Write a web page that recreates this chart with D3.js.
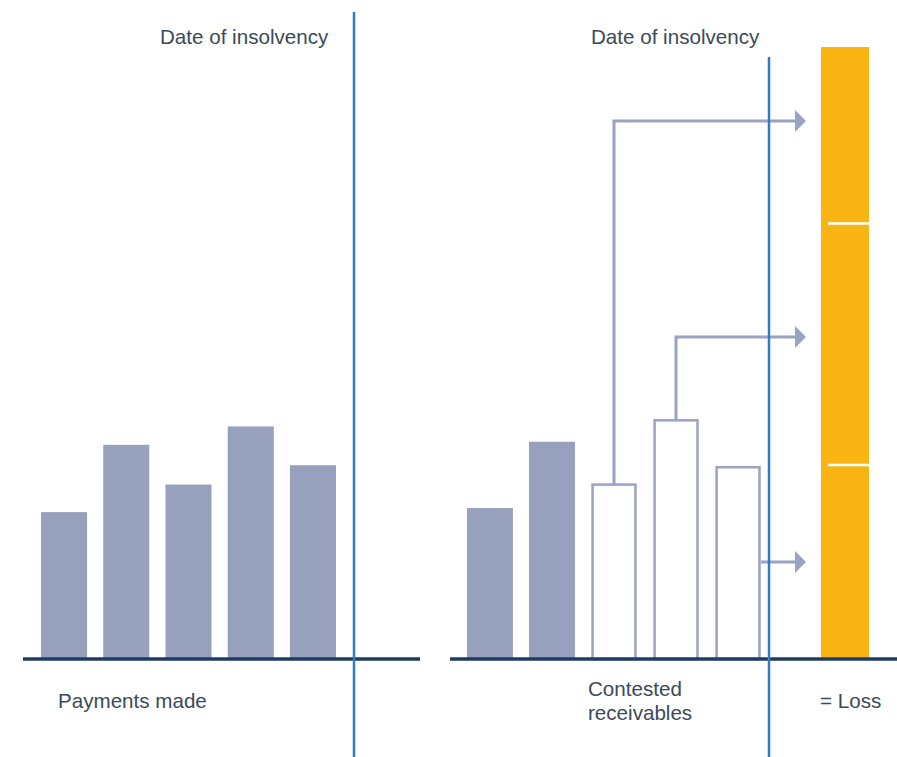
<!DOCTYPE html>
<html>
<head>
<meta charset="utf-8">
<script src="https://cdn.jsdelivr.net/npm/d3@7"></script>
<style>
  body { margin: 0; background: #fff; }
  text { font-family: "Liberation Sans", Arial, sans-serif; fill: #3b4a58; font-size: 20.6px; }
</style>
</head>
<body>
<div id="chart"></div>
<script>
// values (arbitrary units)
var paymentPeriods = ["p1", "p2", "p3", "p4", "p5"];
var paymentsMade = [144, 210, 171, 228, 190];
var afterPeriods = ["r1", "r2", "r3", "r4", "r5"];
var afterValues = [148, 213, 171, 234, 188];
var contested = [false, false, true, true, true];
var titleLabel = "Date of insolvency";
var leftLabel = "Payments made";
var midLabel = ["Contested", "receivables"];
var lossLabel = "= Loss";

var width = 897,
height = 757,
baseY = 659;

var svg = d3.select("#chart")
.append("svg")
.attr("width", width)
.attr("height", height);

var yScale = d3.scaleLinear()
.domain([0, 600])
.range([baseY, 47]);

var xLeft = d3.scaleBand()
.domain(paymentPeriods)
.range([41, 336])
.paddingInner(0.26);

var xRight = d3.scaleBand()
.domain(afterPeriods)
.range([467, 761])
.paddingInner(0.26);

var barFill = "#97a1bd",
navy = "#1e3b63",
blue = "#2d7dbf",
orange = "#f9b514";

// left panel bars
svg.append("g").selectAll("rect")
.data(paymentsMade)
.enter().append("rect")
.attr("x", function(d, i) { return xLeft(paymentPeriods[i]); })
.attr("y", function(d) { return yScale(d); })
.attr("width", xLeft.bandwidth())
.attr("height", function(d) { return baseY - yScale(d); })
.attr("fill", barFill);

// right panel bars, contested ones drawn hollow
svg.append("g").selectAll("rect")
.data(afterValues)
.enter().append("rect")
.attr("x", function(d, i) { return xRight(afterPeriods[i]) + (contested[i] ? 1.5 : 0); })
.attr("y", function(d) { return yScale(d); })
.attr("width", function(d, i) { return xRight.bandwidth() - (contested[i] ? 3 : 0); })
.attr("height", function(d) { return baseY - yScale(d); })
.attr("fill", function(d, i) { return contested[i] ? "#fff" : barFill; })
.attr("stroke", function(d, i) { return contested[i] ? "#9aa3c1" : "none"; })
.attr("stroke-width", 2.5);

// loss bar = stack of contested receivables
var lossX = 821, lossW = 48;
var stackVals = [];
afterValues.forEach(function(v, i) { if (contested[i]) stackVals.push({ i: i, v: v }); });
// stack from the top down: first contested on top
var acc = 0;
var total = d3.sum(stackVals, function(d) { return d.v; });
stackVals.forEach(function(d) {
  d.top = total - acc;
  d.bottom = total - acc - d.v;
  acc += d.v;
});

var yLoss = d3.scaleLinear()
.domain([0, total])
.range([baseY, 47]);

svg.append("rect")
.attr("x", lossX)
.attr("y", yLoss(total))
.attr("width", lossW)
.attr("height", baseY - yLoss(total))
.attr("fill", orange);

svg.append("g").selectAll("line")
.data(stackVals.slice(0, stackVals.length - 1))
.enter().append("line")
.attr("x1", lossX + 7)
.attr("x2", lossX + lossW)
.attr("y1", function(d) { return yLoss(d.bottom); })
.attr("y2", function(d) { return yLoss(d.bottom); })
.attr("stroke", "#fff")
.attr("stroke-width", 2.5);

// arrows from contested bars to loss segments
var arrowEnd = 806;
var arrows = svg.append("g");
stackVals.forEach(function(d, k) {
  var cx = xRight(afterPeriods[d.i]) + xRight.bandwidth() / 2;
  var last = k === stackVals.length - 1;
  var ay = yLoss(d.bottom + d.v * (k === 0 ? 0.58 : 0.53));
  var pts;
  if (last) {
    ay = yLoss(d.bottom + d.v * 0.5);
    pts = [[xRight(afterPeriods[d.i]) + xRight.bandwidth(), ay], [arrowEnd - 10, ay]];
  } else {
    pts = [[cx, yScale(d.v)], [cx, ay], [arrowEnd - 10, ay]];
  }
  arrows.append("path")
  .attr("d", d3.line()(pts))
  .attr("fill", "none")
  .attr("stroke", "#9aa3c1")
  .attr("stroke-width", 3);
  arrows.append("path")
  .attr("d", d3.line()([[arrowEnd - 11, ay - 11], [arrowEnd, ay], [arrowEnd - 11, ay + 11]]))
  .attr("fill", "#9aa3c1");
});

// baselines
svg.append("line")
.attr("x1", 23).attr("x2", 420)
.attr("y1", baseY).attr("y2", baseY)
.attr("stroke", navy).attr("stroke-width", 3.5);

svg.append("line")
.attr("x1", 450).attr("x2", width)
.attr("y1", baseY).attr("y2", baseY)
.attr("stroke", navy).attr("stroke-width", 3.5);

// insolvency date lines
svg.append("line")
.attr("x1", 354).attr("x2", 354)
.attr("y1", 12).attr("y2", height)
.attr("stroke", blue).attr("stroke-width", 2.5);

svg.append("line")
.attr("x1", 769).attr("x2", 769)
.attr("y1", 57).attr("y2", height)
.attr("stroke", blue).attr("stroke-width", 2.5);

// labels
svg.append("text").attr("x", 160).attr("y", 44).text(titleLabel);
svg.append("text").attr("x", 591).attr("y", 44).text(titleLabel);
svg.append("text").attr("x", 58).attr("y", 708).text(leftLabel);
svg.append("text").attr("x", 588).attr("y", 696).text(midLabel[0]);
svg.append("text").attr("x", 588).attr("y", 720).text(midLabel[1]);
svg.append("text").attr("x", 820).attr("y", 708).text(lossLabel);
</script>
</body>
</html>
